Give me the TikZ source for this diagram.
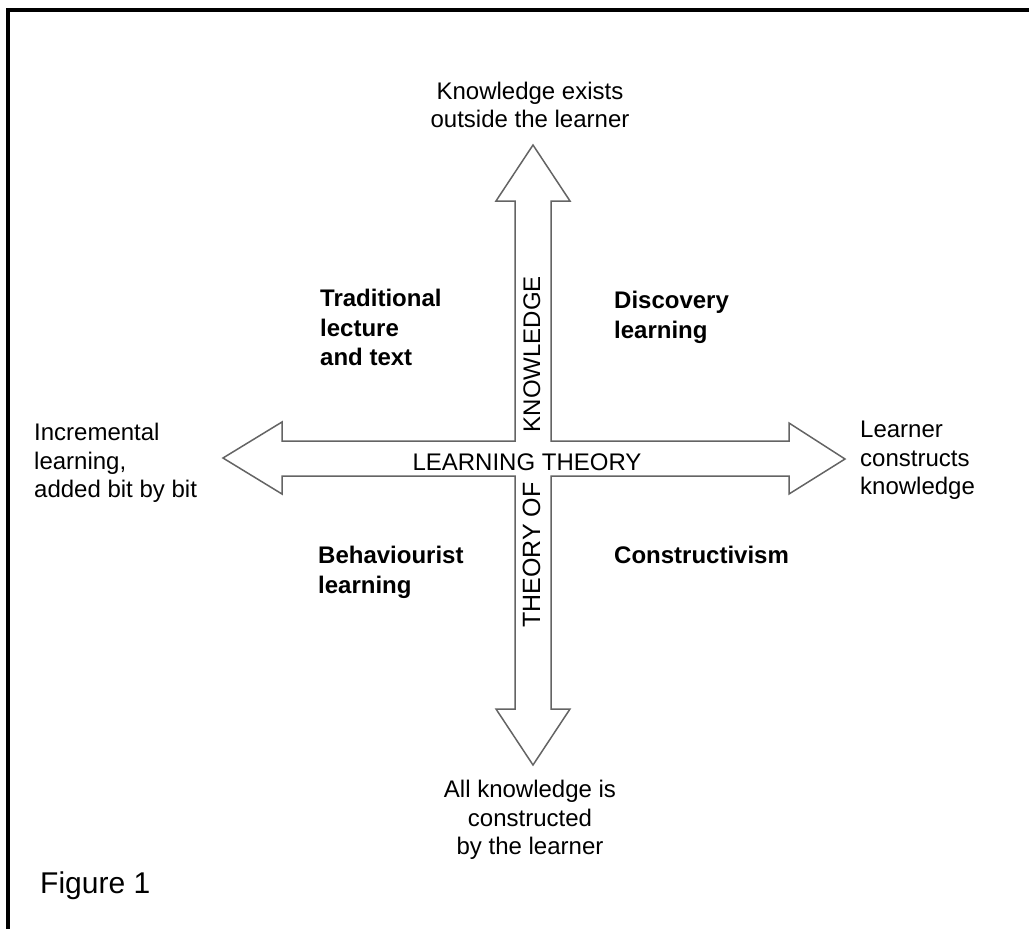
\documentclass[tikz,border=0pt]{standalone}
\usepackage{fontspec}
\setmainfont{Liberation Sans}
\tikzset{
  arrowline/.style={draw={rgb,255:red,100;green,100;blue,100}, line width=1.5pt, line join=miter, fill=white},
  frame/.style={line width=4pt, black},
  lbl/.style={inner sep=0pt, font=\fontsize{24}{28.5}\selectfont, text=black},
  qlbl/.style={inner sep=0pt, font=\bfseries\fontsize{24}{29.5}\selectfont, text=black, align=left, anchor=north west},
  axlbl/.style={inner sep=0pt, font=\fontsize{24}{28}\selectfont, text=black},
}
\begin{document}
\begin{tikzpicture}[x=1pt,y=-1pt]
\useasboundingbox (0,0) rectangle (1029,929);
% frame (only top and left edges visible)
\draw[frame] (1040,10) -- (8,10) -- (8,940);
% cross-shaped double arrow outline
\coordinate (c) at (533,458);
\draw[arrowline]
  (515,441) -- (515,201) -- (496,201) -- (533,145) -- (570,201) -- (551,201) -- (551,441)
  -- (789,441) -- (789,423) -- (845,459) -- (789,494) -- (789,476)
  -- (551,476) -- (551,709) -- (570,709) -- (533,765) -- (496,709) -- (515,709)
  -- (515,476) -- (282,476) -- (282,494) -- (223,458) -- (282,422) -- (282,441) -- cycle;
% axis labels
\node[axlbl, anchor=base] (lt) at (527,470) {LEARNING THEORY};
\node[axlbl, anchor=base, rotate=90] (kn) at (540,354) {KNOWLEDGE};
\node[axlbl, anchor=base, rotate=90, font=\fontsize{25}{28}\selectfont] (th) at (540,555) {THEORY OF};
% end labels
\node[lbl, align=center, anchor=north, font=\fontsize{24}{28}\selectfont] (top) at (530,82) {Knowledge exists\\outside the learner};
\node[lbl, align=center, anchor=north] (bot) at (530,780) {All knowledge is\\constructed\\by the learner};
\node[lbl, align=left, anchor=north west] (lft) at (34,423) {Incremental\\learning,\\added bit by bit};
\node[lbl, align=left, anchor=north west] (rgt) at (860,421) {Learner\\constructs\\knowledge};
% quadrant labels
\node[qlbl] (trad) at (320,289) {Traditional\\lecture\\and text};
\node[qlbl] (disc) at (614,291) {Discovery\\learning};
\node[qlbl] (beh) at (318,546) {Behaviourist\\learning};
\node[qlbl] (con) at (614,546) {Constructivism};
% caption
\node[inner sep=0pt, font=\fontsize{30}{34}\selectfont, anchor=base west] (fig) at (40,893) {Figure 1};
\end{tikzpicture}
\end{document}
